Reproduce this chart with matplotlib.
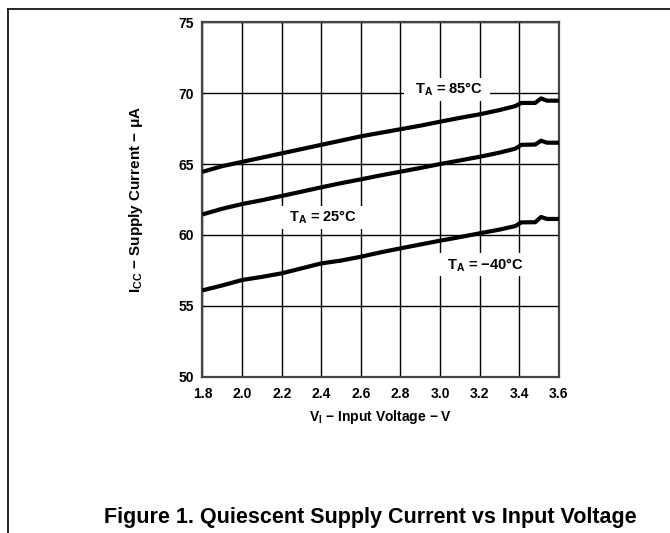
import matplotlib
matplotlib.use("Agg")
import matplotlib.pyplot as plt
from matplotlib.lines import Line2D

plt.rcParams['font.family'] = ['Liberation Sans', 'DejaVu Sans']
plt.rcParams['font.weight'] = 'bold'
plt.rcParams['axes.labelweight'] = 'bold'
plt.rcParams['mathtext.fontset'] = 'custom'
plt.rcParams['mathtext.rm'] = 'Liberation Sans:bold'
plt.rcParams['mathtext.it'] = 'Liberation Sans:bold'
plt.rcParams['mathtext.bf'] = 'Liberation Sans:bold'

# supply current (uA) vs input voltage (V)
vin = [1.8, 1.9, 2.0, 2.1, 2.2, 2.3, 2.4, 2.5, 2.6, 2.7, 2.8, 2.9, 3.0,
       3.1, 3.2, 3.3, 3.38, 3.41, 3.48, 3.51, 3.54, 3.6]
icc_85 = [64.45, 64.85, 65.15, 65.45, 65.75, 66.05, 66.35, 66.65, 66.95, 67.2, 67.45, 67.7, 67.98,
          68.25, 68.5, 68.8, 69.08, 69.3, 69.3, 69.62, 69.46, 69.46]
icc_25 = [61.45, 61.85, 62.18, 62.45, 62.75, 63.05, 63.36, 63.65, 63.92, 64.2, 64.46, 64.72, 65.0,
          65.25, 65.51, 65.8, 66.08, 66.35, 66.37, 66.64, 66.5, 66.5]
icc_m40 = [56.1, 56.45, 56.83, 57.05, 57.3, 57.65, 58.0, 58.2, 58.47, 58.78, 59.06, 59.33, 59.6,
           59.85, 60.12, 60.38, 60.63, 60.89, 60.9, 61.27, 61.13, 61.13]

xticks = [1.8, 2.0, 2.2, 2.4, 2.6, 2.8, 3.0, 3.2, 3.4, 3.6]
yticks = [50, 55, 60, 65, 70, 75]

# curve labels: text, x, y
labels = [(r'T$_{\mathrm{A}}$ = 85°C', 3.035, 70.25),
          (r'T$_{\mathrm{A}}$ = 25°C', 2.40, 61.25),
          (r'T$_{\mathrm{A}}$ = −40°C', 3.22, 57.9)]

fig = plt.figure(figsize=(6.7, 5.33), dpi=100)
ax = fig.add_axes([0.3022, 0.2927, 0.532, 0.666])

for y in [icc_85, icc_25, icc_m40]:
    ax.plot(vin, y, color='black', lw=3.0, solid_capstyle='butt', zorder=4)

ax.set_xlim(1.8, 3.6)
ax.set_ylim(50, 75)
ax.set_xticks(xticks)
ax.set_xticklabels([f'{v:.1f}' for v in xticks])
ax.set_yticks(yticks)
ax.tick_params(length=0, labelsize=10, pad=6)
ax.tick_params(axis='x', pad=7)
ax.grid(True, color='black', lw=1.0)
ax.set_axisbelow(True)
for s in ax.spines.values():
    s.set_color('#444444')
    s.set_linewidth(1.6)

for txt, x, y in labels:
    ax.text(x, y, '  ' + txt + '  ', fontsize=10.5, ha='center', va='center', zorder=3,
            bbox=dict(boxstyle='square,pad=0.2', fc='white', ec='none'))

ax.set_xlabel(r'V$_{\mathrm{I}}$ − Input Voltage − V', fontsize=10, labelpad=5)
ax.set_ylabel(r'I$_{\mathrm{CC}}$ − Supply Current − μA', fontsize=11, labelpad=24)

fig.text(0.553, 0.030, 'Figure 1. Quiescent Supply Current vs Input Voltage',
         fontsize=15.5, ha='center', va='center')

# page frame (top and left edges)
fig.add_artist(Line2D([0.0124, 1.0], [0.9825, 0.9825], color='black', lw=1.2))
fig.add_artist(Line2D([0.0124, 0.0124], [0.0, 0.9825], color='black', lw=1.2))

fig.savefig('out.png', dpi=100)
